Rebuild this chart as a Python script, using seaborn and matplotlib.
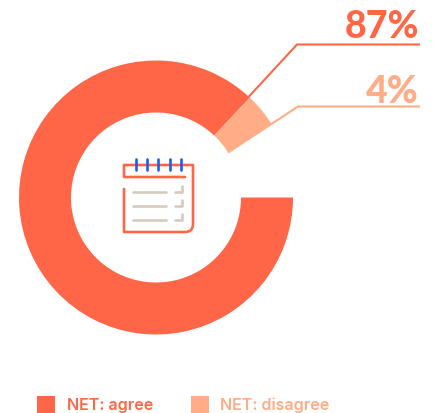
import matplotlib
matplotlib.use("Agg")
import matplotlib.pyplot as plt
from matplotlib.path import Path
from matplotlib.patches import PathPatch, Rectangle
import seaborn as sns

sns.set_theme(style="white")
plt.rcParams["font.family"] = ["Inter", "DejaVu Sans"]

categories = ["NET: agree", "NET: disagree"]
shares = [87, 4]
remainder = [9]
palette = sns.color_palette(["#FF6647", "#FFAC87"])
icon_red = "#FF6647"
icon_blue = "#1E5BF0"
icon_sand = "#D5CBBF"

W, H = 433, 414
fig = plt.figure(figsize=(W / 100, H / 100), dpi=100, facecolor="white")
ax = fig.add_axes([0, 0, 1, 1])


def Y(py):
    """Convert a top-down pixel row to the axes' bottom-up coordinate."""
    return H - py


# Donut: runs clockwise from three o'clock, unanswered share left blank
cx, cy, r_out, r_in = 156, Y(198.5), 137, 85
wedges, _ = ax.pie(
    shares + remainder,
    colors=list(palette) + ["none"],
    startangle=0,
    counterclock=False,
    center=(cx, cy),
    radius=r_out,
    wedgeprops=dict(width=r_out - r_in, linewidth=0),
)
ax.set_xlim(0, W)
ax.set_ylim(0, H)
ax.set_aspect("equal")
ax.axis("off")

# Leader lines to the value labels
ax.plot([248.5, 297, 420], [Y(98), Y(45.5), Y(45.5)], color=palette[0], lw=1.5,
        solid_joinstyle="miter", solid_capstyle="butt")
ax.plot([228, 298, 420], [Y(153.5), Y(107.5), Y(107.5)], color=palette[1], lw=1.5,
        solid_joinstyle="miter", solid_capstyle="butt")

# Value labels
for share, colour, py in zip(shares, palette, [37.5, 103]):
    ax.text(419, Y(py), f"{share}%", color=colour, fontsize=27, fontweight="black",
            family="Lato", ha="right", va="baseline")

# Notebook icon in the hole of the donut
outline = [
    (Path.MOVETO, (185, 178)), (Path.LINETO, (124, 178)), (Path.LINETO, (124, 166)),
    (Path.LINETO, (193, 166)), (Path.LINETO, (193, 225)),
    (Path.CURVE3, (193, 233)), (Path.CURVE3, (185, 233)),
    (Path.LINETO, (124, 233)), (Path.LINETO, (124, 190)),
]
codes, verts = zip(*outline)
ax.add_patch(PathPatch(Path([(x, Y(y)) for x, y in verts], codes), fill=False,
                       edgecolor=icon_red, lw=1.9, capstyle="round", joinstyle="round"))
for x in [135.7, 147, 158.3, 169.7, 180.7]:
    ax.plot([x, x], [Y(160), Y(170.5)], color=icon_blue, lw=1.9, solid_capstyle="round")
for y in [192.5, 206.7, 221]:
    ax.plot([133, 166], [Y(y), Y(y)], color=icon_sand, lw=1.9, solid_capstyle="round")
    ax.plot([175, 182.3, 182.3], [Y(y), Y(y), Y(y - 6)], color=icon_sand, lw=1.9,
            solid_capstyle="round", solid_joinstyle="round")

# Legend row
for name, colour, box_x, text_x in zip(categories, palette, [37, 191], [67, 220]):
    ax.add_patch(Rectangle((box_x, Y(414)), 18, 17, facecolor=colour, edgecolor="none"))
    ax.text(text_x, Y(410.5), name, color=colour, fontsize=11.6, fontweight="semibold",
            ha="left", va="baseline")

fig.savefig("out.png", dpi=100, facecolor="white")
